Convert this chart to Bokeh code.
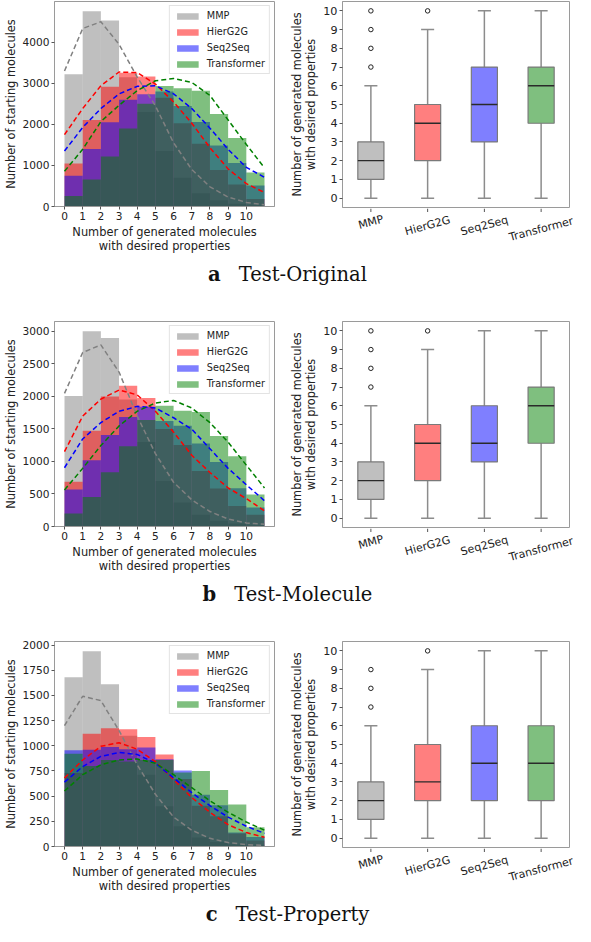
import math
from bokeh.plotting import figure
from bokeh.layouts import column, row
from bokeh.models import (Range1d, FixedTicker, Legend, LegendItem, Div,
                          ColumnDataSource)
from bokeh.core.properties import value
from bokeh.embed import file_html
from bokeh.resources import INLINE

# ---------------- data ----------------
methods = ["MMP", "HierG2G", "Seq2Seq", "Transformer"]
bins = list(range(11))            # number of generated molecules with desired properties
curve_x = list(range(12))

# Test-Original histograms
hist_a_mmp = [3220, 4755, 4533, 3150, 2300, 1350, 700, 320, 150, 70, 30]
hist_a_hier = [1050, 2107, 2918, 3260, 3165, 2650, 2028, 1527, 891, 533, 180]
hist_a_seq = [748, 1400, 2050, 2600, 2735, 2800, 2445, 2060, 1487, 1058, 509]
hist_a_trans = [258, 656, 1217, 1900, 2505, 2935, 2880, 2820, 2250, 1670, 830]
curve_a_mmp = [3300, 4334, 4500, 3950, 3150, 2450, 1550, 900, 480, 230, 100, 40]
curve_a_hier = [1750, 2386, 2942, 3276, 3260, 2982, 2545, 2028, 1431, 914, 557, 340]
curve_a_seq = [1352, 1924, 2386, 2744, 2926, 2942, 2744, 2386, 1908, 1392, 954, 710]
curve_a_trans = [859, 1392, 2068, 2465, 2823, 3062, 3117, 3022, 2704, 2107, 1511, 940]

# Test-Molecule histograms
hist_b_mmp = [2007, 3000, 2895, 1950, 1300, 700, 370, 180, 90, 45, 20]
hist_b_hier = [687, 1470, 1997, 2163, 1975, 1500, 1254, 853, 582, 316, 180]
hist_b_seq = [567, 1019, 1405, 1681, 1840, 1621, 1550, 1275, 993, 588, 291]
hist_b_trans = [201, 452, 833, 1234, 1636, 1855, 1780, 1760, 1390, 1080, 490]
curve_b_mmp = [2045, 2674, 2790, 2373, 1696, 1120, 680, 410, 230, 115, 55, 35]
curve_b_hier = [1150, 1696, 1957, 2097, 2022, 1771, 1450, 1094, 830, 592, 430, 240]
curve_b_seq = [903, 1345, 1596, 1771, 1846, 1821, 1671, 1495, 1194, 893, 642, 395]
curve_b_trans = [562, 893, 1244, 1545, 1771, 1897, 1937, 1821, 1596, 1295, 943, 592]

# Test-Property histograms
hist_c_mmp = [1680, 1939, 1612, 1100, 713, 400, 200, 90, 45, 20, 10]
hist_c_hier = [730, 1119, 1174, 1165, 1088, 914, 670, 405, 300, 130, 60]
hist_c_seq = [955, 960, 989, 966, 982, 866, 756, 515, 410, 140, 95]
hist_c_trans = [922, 800, 860, 845, 860, 860, 735, 750, 562, 418, 190]
curve_c_mmp = [1200, 1492, 1449, 1151, 811, 519, 292, 162, 81, 39, 19, 10]
curve_c_hier = [681, 859, 995, 1031, 966, 843, 665, 486, 340, 217, 139, 91]
curve_c_seq = [639, 794, 895, 934, 914, 827, 681, 535, 405, 292, 201, 130]
curve_c_trans = [551, 713, 811, 859, 869, 827, 713, 584, 454, 340, 243, 162]

# box plot statistics: lower whisker, Q1, median, Q3, upper whisker, outliers
box_a_low = [0, 0, 0, 0]
box_a_q1 = [1, 2, 3, 4]
box_a_med = [2, 4, 5, 6]
box_a_q3 = [3, 5, 7, 7]
box_a_high = [6, 9, 10, 10]
box_a_out = [[7, 8, 9, 10], [10], [], []]

box_b_low = [0, 0, 0, 0]
box_b_q1 = [1, 2, 3, 4]
box_b_med = [2, 4, 4, 6]
box_b_q3 = [3, 5, 6, 7]
box_b_high = [6, 9, 10, 10]
box_b_out = [[7, 8, 9, 10], [10], [], []]

box_c_low = [0, 0, 0, 0]
box_c_q1 = [1, 2, 2, 2]
box_c_med = [2, 3, 4, 4]
box_c_q3 = [3, 5, 6, 6]
box_c_high = [6, 9, 10, 10]
box_c_out = [[7, 8, 9], [10], [], []]

hist_yticks_a = [0, 1000, 2000, 3000, 4000]
hist_yticks_b = [0, 500, 1000, 1500, 2000, 2500, 3000]
hist_yticks_c = [0, 250, 500, 750, 1000, 1250, 1500, 1750, 2000]
box_yticks = list(range(11))

captions = [("a", "Test-Original"), ("b", "Test-Molecule"), ("c", "Test-Property")]

# ---------------- style / layout constants ----------------
colors = ["#808080", "#ff0000", "#0000ff", "#008000"]
FONT = "DejaVu Sans"
TEXT = "#222222"
FRAME = "#9a9a9a"
TICKC = "#555555"
TICK_FS = "10.6px"
BOX_TICK_FS = "11.2px"
LABEL_FS = "11.4px"
XLABEL = "Number of generated molecules\nwith desired properties"

FRAME_H = 206
TOP_B = 1
HIST_W, HIST_BL, HIST_BR, HIST_BB = 276, 48, 2, 48
BOX_W, BOX_BL, BOX_BR, BOX_BB = 299, 66, 6, 1
HIST_H = TOP_B + FRAME_H + HIST_BB
BOX_H = TOP_B + FRAME_H + BOX_BB
LAB_H = HIST_H - BOX_H
BOX_X0, BOX_X1 = 0.5, 4.5
ROW_PERIOD = 320
PAGE_H = 926


def base_style(p):
    p.grid.visible = False
    p.outline_line_color = FRAME
    p.outline_line_width = 1
    p.axis.axis_line_color = FRAME
    p.axis.major_tick_line_color = TICKC
    p.axis.major_tick_out = 3
    p.axis.major_tick_in = 0
    p.axis.minor_tick_line_color = None
    p.axis.major_label_text_font = FONT
    p.axis.major_label_text_font_size = TICK_FS
    p.axis.major_label_text_color = TEXT
    p.axis.major_label_standoff = 2
    p.axis.axis_label_text_font = FONT
    p.axis.axis_label_text_font_size = LABEL_FS
    p.axis.axis_label_text_font_style = "normal"
    p.axis.axis_label_text_color = TEXT
    p.axis.axis_label_standoff = 2
    p.axis.axis_label_text_line_height = 1.0
    p.background_fill_color = "white"
    p.border_fill_color = "white"


def hist_fig(hists, curves, yticks):
    ymax = max(max(h) for h in hists) * 1.05
    p = figure(width=HIST_W, height=HIST_H, x_range=Range1d(-0.55, 11.55),
               y_range=Range1d(0, ymax), output_backend="svg",
               toolbar_location=None, min_border_left=HIST_BL,
               min_border_right=HIST_BR, min_border_top=TOP_B,
               min_border_bottom=HIST_BB)
    base_style(p)
    items = []
    for name, h, c in zip(methods, hists, colors):
        src = ColumnDataSource(dict(left=bins, right=[b + 1 for b in bins], top=h))
        r = p.quad(left="left", right="right", bottom=0, top="top", source=src,
                   fill_color=c, fill_alpha=0.5, line_color=None)
        items.append(LegendItem(label=name, renderers=[r]))
    for cv, c in zip(curves, colors):
        p.line(curve_x, cv, line_color=c, line_width=1.5, line_dash="5 3")
    p.xaxis.ticker = FixedTicker(ticks=bins)
    p.yaxis.ticker = FixedTicker(ticks=yticks)
    p.xaxis.axis_label = XLABEL
    p.yaxis.axis_label = "Number of starting molecules"
    leg = Legend(items=items, location="top_right", margin=4, padding=4,
                 spacing=5, glyph_width=27, glyph_height=8, label_height=9,
                 label_standoff=6, label_text_font=FONT,
                 label_text_font_size="9.7px", label_text_color=TEXT,
                 border_line_color="#c8c8c8", background_fill_alpha=0.85)
    p.add_layout(leg)
    return p


def box_fig(low, q1, med, q3, high, outliers):
    pos = [i + 1 for i in range(len(methods))]
    p = figure(width=BOX_W, height=BOX_H, x_range=Range1d(BOX_X0, BOX_X1),
               y_range=Range1d(-0.5, 10.5), output_backend="svg",
               toolbar_location=None, min_border_left=BOX_BL,
               min_border_right=BOX_BR, min_border_top=TOP_B,
               min_border_bottom=BOX_BB, x_axis_location=None)
    base_style(p)
    p.yaxis.major_label_text_font_size = BOX_TICK_FS
    hw, cw = 0.23, 0.115
    src = ColumnDataSource(dict(
        pos=pos, left=[x - hw for x in pos], right=[x + hw for x in pos],
        cl=[x - cw for x in pos], cr=[x + cw for x in pos],
        low=low, q1=q1, med=med, q3=q3, high=high, color=colors))
    wk = dict(source=src, line_color="#8c8c8c", line_width=1.5)
    p.segment(x0="pos", y0="low", x1="pos", y1="q1", **wk)
    p.segment(x0="pos", y0="q3", x1="pos", y1="high", **wk)
    p.segment(x0="cl", y0="low", x1="cr", y1="low", **wk)
    p.segment(x0="cl", y0="high", x1="cr", y1="high", **wk)
    p.quad(left="left", right="right", bottom="q1", top="q3", source=src,
           fill_color="color", fill_alpha=0.5, line_color="#7a7a7a",
           line_width=1.2)
    p.segment(x0="left", y0="med", x1="right", y1="med", source=src,
              line_color="#2a2a2a", line_width=1.3)
    ox = [pos[i] for i, o in enumerate(outliers) for _ in o]
    oy = [v for o in outliers for v in o]
    p.scatter(ox, oy, marker="circle", size=4.5, fill_color=None,
              line_color="#222222", line_width=1)
    p.yaxis.ticker = FixedTicker(ticks=box_yticks)
    p.yaxis.axis_label = XLABEL
    return p


def box_label_fig():
    """Strip under a box plot: category ticks and rotated category names."""
    frame_w = BOX_W - BOX_BL - BOX_BR
    upp = (BOX_X1 - BOX_X0) / frame_w
    p = figure(width=BOX_W, height=LAB_H,
               x_range=Range1d(BOX_X0 - BOX_BL * upp, BOX_X1 + BOX_BR * upp),
               y_range=Range1d(0, LAB_H), output_backend="svg",
               toolbar_location=None, min_border=0, x_axis_location=None,
               y_axis_location=None, outline_line_color=None)
    p.grid.visible = False
    p.background_fill_color = "white"
    p.border_fill_color = "white"
    pos = [i + 1 for i in range(len(methods))]
    # tick marks hanging from the box plot frame
    p.segment(x0=pos, y0=[LAB_H] * len(pos), x1=pos, y1=[LAB_H - 3.5] * len(pos),
              line_color=TICKC, line_width=1)
    ang = math.radians(15)
    fs = 11.0
    ys = []
    for name in methods:
        w = 0.6 * len(name) * fs
        off = 5 + (w * math.sin(ang) + 13 * math.cos(ang)) / 2
        ys.append(LAB_H - off)
    p.text(x=pos, y=ys, text=methods, angle=ang, text_align="center",
           text_baseline="middle", text_font=value(FONT),
           text_font_size=value(f"{fs}px"), text_color=TEXT)
    return p


def caption(letter, title, height):
    html = (
        "<div style=\"width:575px;text-align:center;font-family:'DejaVu Serif';"
        "font-size:19.5px;line-height:22px;color:#111111;padding-top:9px;\">"
        f"<b>{letter}</b><span style=\"display:inline-block;width:18px\"></span>{title}</div>"
    )
    return Div(text=html, width=575, height=height, margin=0)


def panel(hists, curves, yticks, stats, outliers):
    h = hist_fig(hists, curves, yticks)
    b = box_fig(*stats, outliers)
    lab = box_label_fig()
    return row(h, column(b, row(lab, spacing=0), spacing=0), spacing=0)


row_a = panel([hist_a_mmp, hist_a_hier, hist_a_seq, hist_a_trans],
              [curve_a_mmp, curve_a_hier, curve_a_seq, curve_a_trans], hist_yticks_a,
              (box_a_low, box_a_q1, box_a_med, box_a_q3, box_a_high), box_a_out)
row_b = panel([hist_b_mmp, hist_b_hier, hist_b_seq, hist_b_trans],
              [curve_b_mmp, curve_b_hier, curve_b_seq, curve_b_trans], hist_yticks_b,
              (box_b_low, box_b_q1, box_b_med, box_b_q3, box_b_high), box_b_out)
row_c = panel([hist_c_mmp, hist_c_hier, hist_c_seq, hist_c_trans],
              [curve_c_mmp, curve_c_hier, curve_c_seq, curve_c_trans], hist_yticks_c,
              (box_c_low, box_c_q1, box_c_med, box_c_q3, box_c_high), box_c_out)

cap_h = ROW_PERIOD - HIST_H
last_cap_h = PAGE_H - 2 * ROW_PERIOD - HIST_H
layout = column(
    row_a, caption(*captions[0], cap_h),
    row_b, caption(*captions[1], cap_h),
    row_c, caption(*captions[2], last_cap_h),
    spacing=0,
)

open("out.html", "w").write(file_html(layout, INLINE))
